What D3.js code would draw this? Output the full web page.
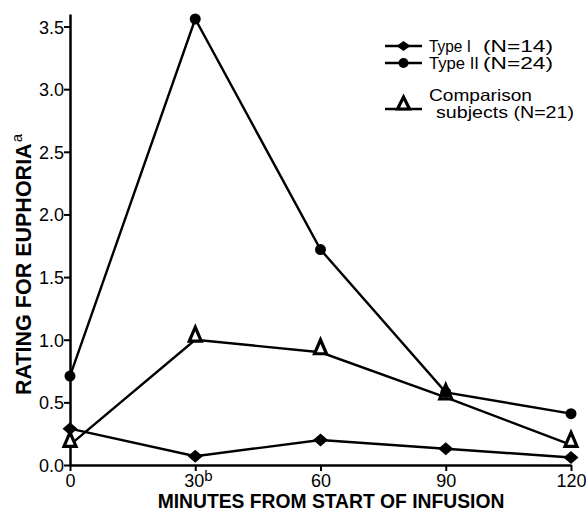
<!DOCTYPE html>
<html>
<head>
<meta charset="utf-8">
<script src="https://cdn.jsdelivr.net/npm/d3@7"></script>
<style>
  body { margin: 0; background: #fff; }
  text { font-family: "Liberation Sans", Arial, sans-serif; fill: #000; }
</style>
</head>
<body>
<div id="chart"></div>
<script>
const minutes = [0, 30, 60, 90, 120];
const typeI = [0.29, 0.07, 0.2, 0.13, 0.06];
const typeII = [0.71, 3.56, 1.72, 0.58, 0.41];
const comparison = [0.16, 1.0, 0.9, 0.54, 0.16];
const yTicks = [0, 0.5, 1.0, 1.5, 2.0, 2.5, 3.0, 3.5];

const W = 586, H = 514;
const margin = { top: 14, right: 15, bottom: 49, left: 70 };

const svg = d3.select("#chart").append("svg")
  .attr("width", W).attr("height", H);

const x = d3.scaleLinear().domain([0, 120]).range([margin.left, W - margin.right]);
const y = d3.scaleLinear().domain([0, 3.6]).range([H - margin.bottom, margin.top]);

// axes
const xAxis = svg.append("g")
  .attr("transform", `translate(0,${H - margin.bottom})`)
  .call(d3.axisBottom(x).tickValues(minutes).tickSize(6).tickSizeOuter(0).tickFormat(d => d === 30 ? "" : d));
const yAxis = svg.append("g")
  .attr("transform", `translate(${margin.left},0)`)
  .call(d3.axisLeft(y).tickValues(yTicks).tickSize(6).tickSizeOuter(0).tickFormat(d3.format(".1f")));

[xAxis, yAxis].forEach(g => {
  g.select(".domain").attr("stroke", "#000").attr("stroke-width", 2.5);
  g.selectAll(".tick line").attr("stroke", "#000").attr("stroke-width", 2);
  g.selectAll(".tick text").style("font-size", "18px").attr("fill", "#000");
});
xAxis.selectAll(".tick text").attr("dy", null).attr("y", 22);
yAxis.selectAll(".tick text").attr("x", -6).attr("dy", "0.36em");

// "30" with superscript b
const t30 = svg.append("text")
  .attr("x", x(30) - 11).attr("y", H - margin.bottom + 22)
  .style("font-size", "18px");
t30.append("tspan").text("30");
t30.append("tspan").attr("dy", -6).style("font-size", "15px").text("b");

// axis titles
svg.append("text")
  .attr("x", 331)
  .attr("y", 508)
  .attr("text-anchor", "middle")
  .style("font-size", "19.3px").style("font-weight", "bold")
  .text("MINUTES FROM START OF INFUSION");

const yt = svg.append("text")
  .attr("transform", "translate(31,395) rotate(-90)")
  .style("font-size", "21.5px").style("font-weight", "bold");
yt.append("tspan").text("RATING FOR EUPHORIA");
yt.append("tspan").attr("dx", 1).attr("dy", -9).style("font-size", "15px").style("font-weight", "normal").text("a");

// markers
const diamond = (w, h) => `M0,${-h / 2}L${w / 2},0L0,${h / 2}L${-w / 2},0Z`;
const triangle = "M0,-14L6,0L-6,0Z";

const line = d3.line().x((d, i) => x(minutes[i])).y(d => y(d));

function series(vals, kind) {
  svg.append("path").datum(vals).attr("d", line)
    .attr("fill", "none").attr("stroke", "#000").attr("stroke-width", 2.4);
  const g = svg.append("g");
  vals.forEach((v, i) => {
    const cx = x(minutes[i]), cy = y(v);
    if (kind === "diamond") {
      g.append("path").attr("d", diamond(15, 13))
        .attr("transform", `translate(${cx},${cy})`).attr("fill", "#000");
    } else if (kind === "circle") {
      g.append("circle").attr("cx", cx).attr("cy", cy).attr("r", 5.5).attr("fill", "#000");
    } else {
      g.append("path").attr("d", triangle)
        .attr("transform", `translate(${cx},${cy + 1.5})`)
        .attr("fill", "#fff").attr("stroke", "#000").attr("stroke-width", 3.2)
        .attr("stroke-linejoin", "miter");
    }
  });
}

series(comparison, "triangle");
series(typeI, "diamond");
series(typeII, "circle");

// legend
const lg = svg.append("g");
const lx0 = 385, lx1 = 422, tx = 429, nx = 483;
const legendFont = "16.5px";
[[46, "diamond", "Type I", "(N=14)"], [63, "circle", "Type II", "(N=24)"]].forEach(([ly, kind, label, n]) => {
  lg.append("line").attr("x1", lx0).attr("x2", lx1).attr("y1", ly).attr("y2", ly)
    .attr("stroke", "#000").attr("stroke-width", 2.4);
  if (kind === "diamond") {
    lg.append("path").attr("d", diamond(14, 10)).attr("transform", `translate(${(lx0 + lx1) / 2},${ly})`);
  } else {
    lg.append("circle").attr("cx", (lx0 + lx1) / 2).attr("cy", ly).attr("r", 5);
  }
  lg.append("text").attr("x", tx).attr("y", ly + 6).style("font-size", legendFont)
    .attr("textLength", label === "Type I" ? 42 : 50).attr("lengthAdjust", "spacingAndGlyphs").text(label);
  lg.append("text").attr("x", nx).attr("y", ly + 6).style("font-size", legendFont)
    .attr("textLength", 70).attr("lengthAdjust", "spacingAndGlyphs").text(n);
});
lg.append("line").attr("x1", lx0).attr("x2", lx1).attr("y1", 109).attr("y2", 109)
  .attr("stroke", "#000").attr("stroke-width", 2.4);
lg.append("path").attr("d", "M0,-12L6,0L-6,0Z").attr("transform", `translate(${(lx0 + lx1) / 2},109)`)
  .attr("fill", "#fff").attr("stroke", "#000").attr("stroke-width", 3.2);
lg.append("text").attr("x", tx).attr("y", 101).style("font-size", legendFont)
  .attr("textLength", 103).attr("lengthAdjust", "spacingAndGlyphs").text("Comparison");
lg.append("text").attr("x", tx + 7).attr("y", 118).style("font-size", legendFont)
  .attr("textLength", 138).attr("lengthAdjust", "spacingAndGlyphs").text("subjects (N=21)");
</script>
</body>
</html>
